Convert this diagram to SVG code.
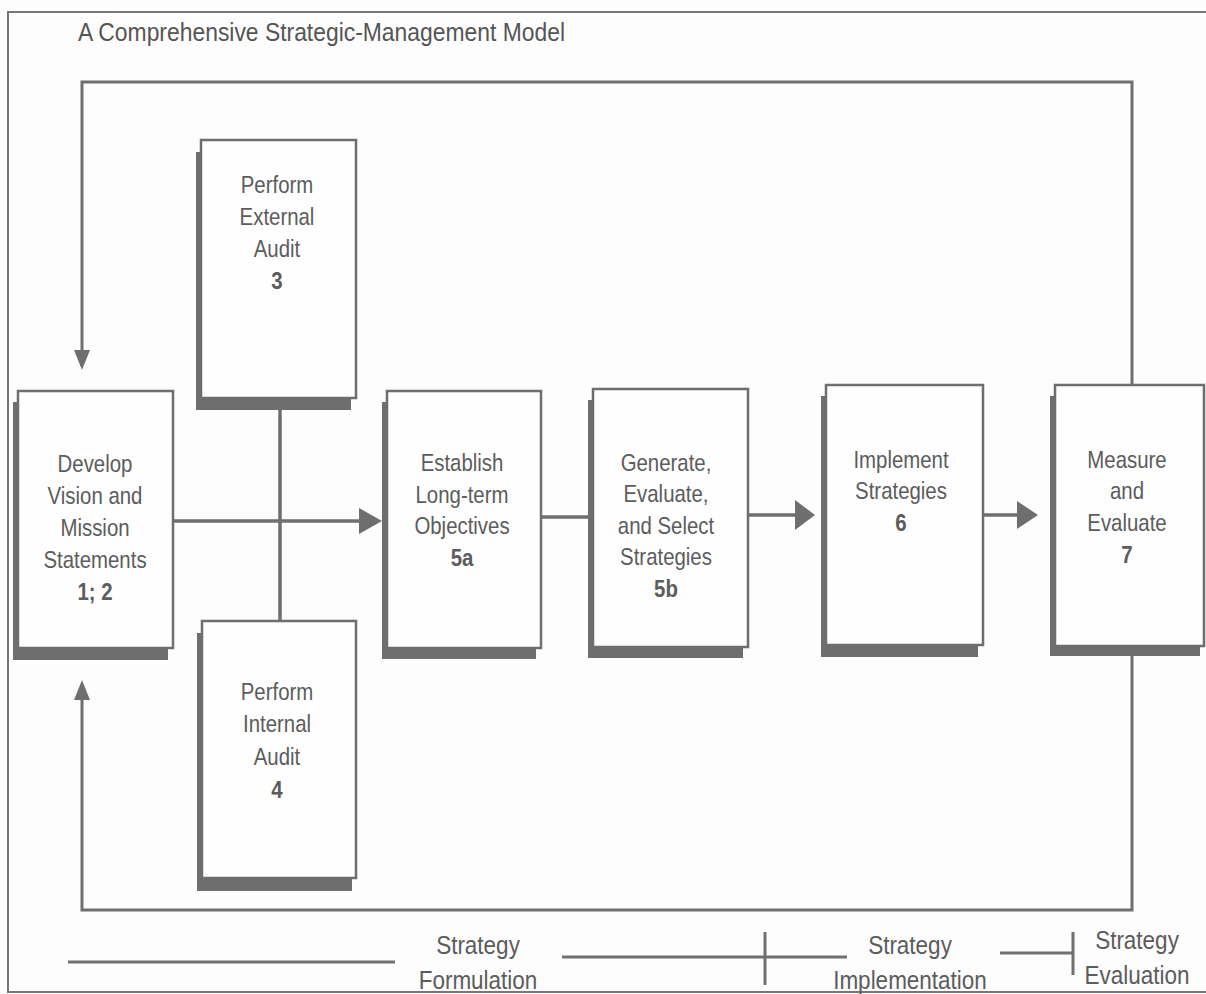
<svg xmlns="http://www.w3.org/2000/svg" width="1206" height="994" viewBox="0 0 1206 994">
<defs>
<style>
.frame{fill:none;stroke:#767676;stroke-width:2}
.shadow{fill:#6e6e6e}
.box{fill:#fefefe;stroke:#6e6e6e;stroke-width:2.5}
.lbl{font-family:"Liberation Sans",Arial,sans-serif;font-size:24px;fill:#5c5c5c;text-anchor:middle}
.leg{font-family:"Liberation Sans",Arial,sans-serif;font-size:25px;fill:#5c5c5c;text-anchor:middle}
.num{font-weight:bold}
.ln{fill:none;stroke:#6e6e6e;stroke-width:3.5}
.thin{fill:none;stroke:#707070;stroke-width:3}
.head{fill:#6e6e6e}
.title{font-family:"Liberation Sans",Arial,sans-serif;font-size:25px;fill:#555}
</style>
</defs>
<rect width="1206" height="994" fill="#fdfdfd"/>
<rect class="frame" x="8" y="12" width="1220" height="980"/>
<text class="title" x="78" y="41" textLength="487" lengthAdjust="spacingAndGlyphs">A Comprehensive Strategic-Management Model</text>

<g id="connectors">
<path class="thin" d="M1132,385 V82 H82 V352"/>
<polygon class="head" points="74,350 90,350 82,370"/>
<path class="thin" d="M1132,655 V910 H82 V698"/>
<polygon class="head" points="74,700 90,700 82,680"/>
<path class="ln" d="M280,398 V621"/>
<path class="ln" d="M173,521 H362"/>
<polygon class="head" points="359,508 382,521 359,534"/>
<path class="ln" d="M541,517 H593"/>
<path class="ln" d="M748,515 H797"/>
<polygon class="head" points="795,500 815,515 795,530"/>
<path class="ln" d="M983,515 H1019"/>
<polygon class="head" points="1017,501 1038,515 1017,529"/>
</g>

<g id="n1">
<rect class="shadow" x="13" y="402" width="155" height="258"/>
<rect class="box" x="18" y="391" width="155" height="257"/>
<g transform="translate(95 0) scale(0.85 1)"><text class="lbl"><tspan x="0" y="472">Develop</tspan><tspan x="0" y="504">Vision and</tspan><tspan x="0" y="536">Mission</tspan><tspan x="0" y="568">Statements</tspan><tspan x="0" y="600" class="num">1; 2</tspan></text></g>
</g>

<g id="n3">
<rect class="shadow" x="196" y="152" width="155" height="258"/>
<rect class="box" x="201" y="140" width="155" height="258"/>
<g transform="translate(277 0) scale(0.85 1)"><text class="lbl"><tspan x="0" y="193">Perform</tspan><tspan x="0" y="225">External</tspan><tspan x="0" y="257">Audit</tspan><tspan x="0" y="289" class="num">3</tspan></text></g>
</g>

<g id="n4">
<rect class="shadow" x="197" y="633" width="155" height="258"/>
<rect class="box" x="202" y="621" width="154" height="257"/>
<g transform="translate(277 0) scale(0.85 1)"><text class="lbl"><tspan x="0" y="700">Perform</tspan><tspan x="0" y="732">Internal</tspan><tspan x="0" y="765">Audit</tspan><tspan x="0" y="798" class="num">4</tspan></text></g>
</g>

<g id="n5a">
<rect class="shadow" x="382" y="402" width="154" height="257"/>
<rect class="box" x="387" y="391" width="154" height="257"/>
<g transform="translate(462 0) scale(0.85 1)"><text class="lbl"><tspan x="0" y="471">Establish</tspan><tspan x="0" y="503">Long-term</tspan><tspan x="0" y="534">Objectives</tspan><tspan x="0" y="566" class="num">5a</tspan></text></g>
</g>

<g id="n5b">
<rect class="shadow" x="588" y="400" width="155" height="258"/>
<rect class="box" x="593" y="389" width="155" height="258"/>
<g transform="translate(666 0) scale(0.85 1)"><text class="lbl"><tspan x="0" y="471">Generate,</tspan><tspan x="0" y="502">Evaluate,</tspan><tspan x="0" y="534">and Select</tspan><tspan x="0" y="565">Strategies</tspan><tspan x="0" y="597" class="num">5b</tspan></text></g>
</g>

<g id="n6">
<rect class="shadow" x="821" y="396" width="157" height="261"/>
<rect class="box" x="826" y="385" width="157" height="260"/>
<g transform="translate(901 0) scale(0.85 1)"><text class="lbl"><tspan x="0" y="468">Implement</tspan><tspan x="0" y="499">Strategies</tspan><tspan x="0" y="531" class="num">6</tspan></text></g>
</g>

<g id="n7">
<rect class="shadow" x="1050" y="396" width="150" height="260"/>
<rect class="box" x="1055" y="385" width="149" height="261"/>
<g transform="translate(1127 0) scale(0.85 1)"><text class="lbl"><tspan x="0" y="468">Measure</tspan><tspan x="0" y="499">and</tspan><tspan x="0" y="531">Evaluate</tspan><tspan x="0" y="563" class="num">7</tspan></text></g>
</g>

<g id="legend">
<path class="thin" d="M68,962 H395"/>
<g transform="translate(478 0) scale(0.9 1)"><text class="leg"><tspan x="0" y="954">Strategy</tspan><tspan x="0" y="989">Formulation</tspan></text></g>
<path class="thin" d="M562,957 H847 M765,932 V985"/>
<g transform="translate(910 0) scale(0.9 1)"><text class="leg"><tspan x="0" y="954">Strategy</tspan><tspan x="0" y="989">Implementation</tspan></text></g>
<path class="thin" d="M1000,953 H1073 M1073,932 V975"/>
<g transform="translate(1137 0) scale(0.9 1)"><text class="leg"><tspan x="0" y="949">Strategy</tspan><tspan x="0" y="984">Evaluation</tspan></text></g>
</g>
</svg>
